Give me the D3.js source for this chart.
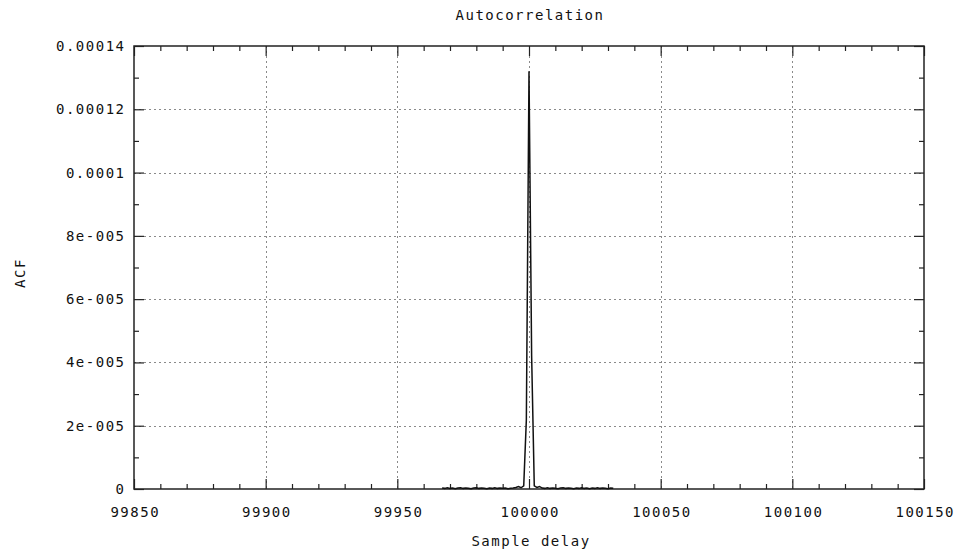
<!DOCTYPE html>
<html>
<head>
<meta charset="utf-8">
<script src="https://cdn.jsdelivr.net/npm/d3@7/dist/d3.min.js"></script>
<style>
  html, body { margin: 0; padding: 0; background: #fff; }
  svg { display: block; }
  text { font-family: "DejaVu Sans Mono", "Liberation Mono", monospace; font-size: 14px; fill: #111; letter-spacing: 1.5px; }
</style>
</head>
<body>
<svg id="chart" width="960" height="550"></svg>
<script>
// Sample delays (lags) and their autocorrelation values
const delays = [
  99967, 99968, 99969, 99970, 99971, 99972, 99973, 99974, 99975, 99976,
  99977, 99978, 99979, 99980, 99981, 99982, 99983, 99984, 99985, 99986,
  99987, 99988, 99989, 99990, 99991, 99992, 99993, 99994, 99995, 99996,
  99997, 99998, 99999, 100000, 100001, 100002, 100003, 100004, 100005, 100006,
  100007, 100008, 100009, 100010, 100011, 100012, 100013, 100014, 100015, 100016,
  100017, 100018, 100019, 100020, 100021, 100022, 100023, 100024, 100025, 100026,
  100027, 100028, 100029, 100030, 100031, 100032
];
const acf = [
  3e-7, 2e-7, 4e-7, 2e-7, 3e-7, 1e-7, 3e-7, 4e-7, 2e-7, 3e-7,
  2e-7, 1e-7, 3e-7, 4e-7, 2e-7, 3e-7, 2e-7, 1e-7, 3e-7, 2e-7,
  4e-7, 2e-7, 3e-7, 2e-7, 3e-7, 1e-7, 2e-7, 3e-7, 5e-7, 8e-7,
  4e-7, 1.0e-6, 2.2e-5, 1.32e-4, 4.2e-5, 1.0e-6, 5e-7, 8e-7, 3e-7, 2e-7,
  4e-7, 2e-7, 3e-7, 2e-7, 1e-7, 3e-7, 4e-7, 2e-7, 3e-7, 2e-7,
  1e-7, 3e-7, 2e-7, 4e-7, 2e-7, 3e-7, 1e-7, 3e-7, 2e-7, 4e-7,
  2e-7, 3e-7, 2e-7, 1e-7, 3e-7, 2e-7
];

// Axis ticks
const xTicks = [99850, 99900, 99950, 100000, 100050, 100100, 100150];
const xTickLabels = ["99850", "99900", "99950", "100000", "100050", "100100", "100150"];
const yTicks = [0, 2e-5, 4e-5, 6e-5, 8e-5, 1e-4, 1.2e-4, 1.4e-4];
const yTickLabels = ["0", "2e-005", "4e-005", "6e-005", "8e-005", "0.0001", "0.00012", "0.00014"];

const titleText = "Autocorrelation";
const xTitle = "Sample delay";
const yTitle = "ACF";

const svg = d3.select("#chart");
const plot = { left: 134, right: 924, top: 46, bottom: 489 };

const x = d3.scaleLinear().domain([99850, 100150]).range([plot.left, plot.right]);
const y = d3.scaleLinear().domain([0, 1.4e-4]).range([plot.bottom, plot.top]);

const xMinor = d3.range(99850, 100150 + 1, 10).filter(v => !xTicks.includes(v));
const yMinor = d3.range(1, 14, 2).map(k => k * 1e-5);

// Dotted grid at major ticks
const grid = svg.append("g").attr("stroke", "#8a8a8a").attr("stroke-width", 1)
  .attr("stroke-dasharray", "2,3").attr("shape-rendering", "crispEdges");
grid.selectAll("line.gx").data(xTicks.slice(1, -1)).join("line")
  .attr("x1", d => Math.round(x(d)) + 0.5).attr("x2", d => Math.round(x(d)) + 0.5)
  .attr("y1", plot.top).attr("y2", plot.bottom);
grid.selectAll("line.gy").data(yTicks.slice(1, -1)).join("line")
  .attr("y1", d => Math.round(y(d)) + 0.5).attr("y2", d => Math.round(y(d)) + 0.5)
  .attr("x1", plot.left).attr("x2", plot.right);

// Axes with inward ticks, mirrored on top and right
function styleAxis(g) {
  g.select(".domain").remove();
  g.selectAll(".tick line").attr("stroke", "#222").attr("stroke-width", 1.2);
}
const bottomAxis = svg.append("g").attr("transform", `translate(0,${plot.bottom})`)
  .call(d3.axisBottom(x).tickValues(xTicks).tickSizeInner(-10).tickPadding(18)
    .tickFormat((d, i) => xTickLabels[i]));
styleAxis(bottomAxis);
bottomAxis.selectAll("text").attr("dx", "0.75px");

svg.append("g").attr("transform", `translate(0,${plot.bottom})`)
  .call(d3.axisBottom(x).tickValues(xMinor).tickSizeInner(-5).tickFormat(""))
  .call(styleAxis);
svg.append("g").attr("transform", `translate(0,${plot.top})`)
  .call(d3.axisTop(x).tickValues(xTicks).tickSizeInner(-10).tickFormat(""))
  .call(styleAxis);
svg.append("g").attr("transform", `translate(0,${plot.top})`)
  .call(d3.axisTop(x).tickValues(xMinor).tickSizeInner(-5).tickFormat(""))
  .call(styleAxis);

const leftAxis = svg.append("g").attr("transform", `translate(${plot.left},0)`)
  .call(d3.axisLeft(y).tickValues(yTicks).tickSizeInner(-10).tickPadding(10)
    .tickFormat((d, i) => yTickLabels[i]));
styleAxis(leftAxis);
leftAxis.selectAll("text").attr("dx", "1.5px");

svg.append("g").attr("transform", `translate(${plot.left},0)`)
  .call(d3.axisLeft(y).tickValues(yMinor).tickSizeInner(-5).tickFormat(""))
  .call(styleAxis);
svg.append("g").attr("transform", `translate(${plot.right},0)`)
  .call(d3.axisRight(y).tickValues(yTicks).tickSizeInner(-10).tickFormat(""))
  .call(styleAxis);
svg.append("g").attr("transform", `translate(${plot.right},0)`)
  .call(d3.axisRight(y).tickValues(yMinor).tickSizeInner(-5).tickFormat(""))
  .call(styleAxis);

svg.selectAll(".tick text").attr("font-family", null).attr("font-size", null).attr("fill", "#111");

// Plot frame
svg.append("rect")
  .attr("x", plot.left).attr("y", plot.top)
  .attr("width", plot.right - plot.left).attr("height", plot.bottom - plot.top)
  .attr("fill", "none").attr("stroke", "#222").attr("stroke-width", 1.5);

// ACF curve
const pts = delays.map((d, i) => [d, acf[i]]);
svg.append("path")
  .datum(pts)
  .attr("fill", "none")
  .attr("stroke", "#111")
  .attr("stroke-width", 1.5)
  .attr("stroke-linejoin", "miter")
  .attr("d", d3.line().x(d => x(d[0])).y(d => y(d[1])));

// Titles
svg.append("text").attr("x", 530).attr("y", 20).attr("text-anchor", "middle").text(titleText);
svg.append("text").attr("x", 531).attr("y", 546).attr("text-anchor", "middle").text(xTitle);
svg.append("text").attr("transform", "translate(25,273) rotate(-90)")
  .attr("text-anchor", "middle").text(yTitle);
</script>
</body>
</html>
